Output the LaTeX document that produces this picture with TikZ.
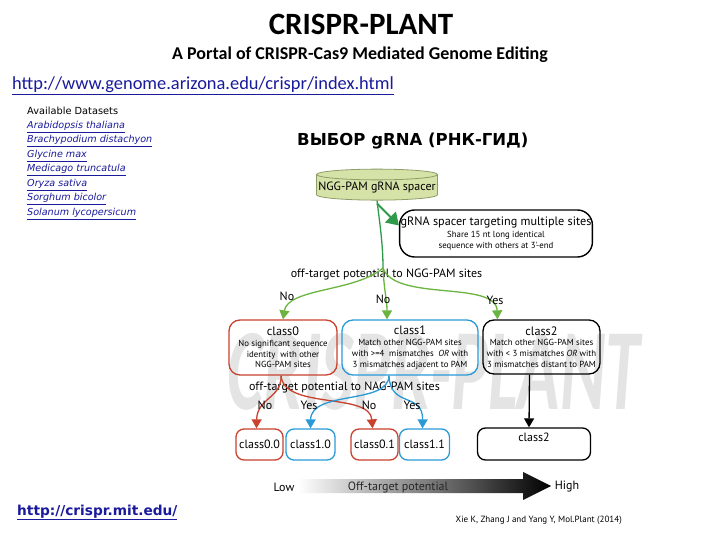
\documentclass[tikz,border=0pt]{standalone}
\usepackage{fontspec}
\setmainfont{Carlito}
\newfontfamily\diafont{PT Sans}
\newfontfamily\webfont{DejaVu Sans}
\usetikzlibrary{positioning,shapes.geometric,arrows.meta}
\definecolor{linkblue}{HTML}{1A1A9C}
\definecolor{spacerfill}{HTML}{D5E3A8}
\definecolor{spacerline}{HTML}{8E9C68}
\definecolor{trunkgreen}{HTML}{2E9A4A}
\definecolor{branchgreen}{HTML}{6BB43F}
\definecolor{classred}{HTML}{C9422E}
\definecolor{classblue}{HTML}{2A9AD6}
\definecolor{markgray}{HTML}{E4E4E4}
\tikzset{
    classbox/.style={draw, line width=1.3pt, rounded corners=11pt, align=center,
        inner sep=1pt, minimum height=55pt, font=\diafont\fontsize{8.8}{10.8}\selectfont},
    leafbox/.style={draw, line width=1.3pt, rounded corners=8pt, minimum height=31pt,
        inner sep=1pt, font=\diafont\fontsize{12}{14}\selectfont},
    steplabel/.style={font=\diafont\fontsize{12}{14}\selectfont, inner sep=1pt},
    tipped/.style={line width=1.3pt, -{Triangle[width=10pt,length=9pt]}},
    dataset/.style={anchor=base west, inner sep=0pt, text=linkblue, font=\webfont\fontsize{9.6}{11}\selectfont\itshape}
}
\newcommand{\classtitle}[1]{{\fontsize{12.2}{14}\selectfont #1}}
\begin{document}
\begin{tikzpicture}[x=1pt, y=-1pt]
    \useasboundingbox[fill=white] (0,0) rectangle (720,540);
    % Filigrane
    \node[text=markgray, inner sep=0pt] (mark) at (434,372)
        {\scalebox{0.6}[1]{\fontsize{116}{116}\selectfont\bfseries\itshape CRISPR-PLANT}};
    % En-tete
    \node[anchor=base, inner sep=0pt, font=\fontsize{31}{34}\selectfont\bfseries] (title) at (361,35) {CRISPR-PLANT};
    \node[anchor=base, inner sep=0pt, font=\fontsize{18}{20}\selectfont\bfseries] (subtitle) at (360,60)
        {A Portal of CRISPR-Cas9 Mediated Genome Editing};
    \node[anchor=base west, inner sep=0pt, text=linkblue, font=\fontsize{18.4}{20}\selectfont] (portal) at (12,90)
        {\underline{http://www.genome.arizona.edu/crispr/index.html}};
    % Liste des especes
    \node[anchor=base west, inner sep=0pt, font=\webfont\fontsize{9.8}{11}\selectfont] (avail) at (27,115) {Available Datasets};
    \foreach \sp [count=\i] in {Arabidopsis thaliana, Brachypodium distachyon, Glycine max,
        Medicago truncatula, Oryza sativa, Sorghum bicolor, Solanum lycopersicum}
        \node[dataset] (ds\i) at (27,{114+14.5*\i}) {\underline{\sp}};
    \node[anchor=base west, inner sep=0pt, font=\webfont\fontsize{16.5}{18}\selectfont\bfseries] (choice) at (297,146)
        {ВЫБОР gRNA (РНК-ГИД)};
    \node[anchor=base west, inner sep=0pt, text=linkblue, font=\webfont\fontsize{13.7}{15}\selectfont\bfseries] (mit) at (17,515)
        {\underline{http://crispr.mit.edu/}};
    % Spacer et sites multiples
    \node[cylinder, shape border rotate=90, aspect=0.09, draw=spacerline, fill=spacerfill, line width=0.8pt,
        minimum width=121pt, minimum height=31pt, inner sep=1pt, font=\diafont\fontsize{12}{14}\selectfont]
        (spacer) at (377,188) {NGG-PAM gRNA spacer};
    \node[draw, line width=1.4pt, rounded corners=15pt, align=center, minimum width=192pt, minimum height=47pt,
        inner sep=1pt, font=\diafont\fontsize{8.8}{11}\selectfont] (multi) at (496,233.5)
        {\classtitle{gRNA spacer targeting multiple sites}\\[1pt] Share 15 nt long identical\\ sequence with others at 3'-end};
    \coordinate (fork) at (383,268);
    \draw[trunkgreen, line width=1.3pt] (spacer.south) .. controls (380,225) and (383,245) .. (fork);
    \draw[trunkgreen, line width=2pt, -{Triangle[width=15pt,length=12pt]}] ([yshift=-3pt]spacer.south) -- ([yshift=8pt]multi.west);
    \node[steplabel] (ngg) at (386.5,274) {off-target potential to NGG-PAM sites};
    % Classes
    \node[classbox, draw=classred, minimum width=108pt] (class0) at (283,347.5)
        {\classtitle{class0}\\ No significant sequence\\ identity\ \ with other\\ NGG-PAM sites};
    \node[classbox, draw=classblue, minimum width=136pt] (class1) at (410,347.5)
        {\classtitle{class1}\\ Match other NGG-PAM sites\\ with >=4\ \ mismatches\ \ \textit{OR} with\\ 3 mismatches adjacent to PAM};
    \node[classbox, minimum width=117pt, minimum height=54pt] (class2) at (541.5,347)
        {\classtitle{class2}\\ Match other NGG-PAM sites\\ with < 3 mismatches \textit{OR} with\\ 3 mismatches distant to PAM};
    \draw[tipped, branchgreen] (fork) .. controls (355,292) and (288,288) .. (class0.north);
    \draw[tipped, branchgreen] (fork) .. controls (384,290) and (387,300) .. ([xshift=-23pt]class1.north);
    \draw[tipped, branchgreen] (fork) .. controls (395,302) and (496,280) .. ([xshift=-44pt]class2.north);
    \node[steplabel] (no0) at (287,296) {No};
    \node[steplabel] (no1) at (383,299) {No};
    \node[steplabel] (yes2) at (495,300) {Yes};
    % Sous-classes NAG
    \node[steplabel] (nag) at (344.5,387) {off-target potential to NAG-PAM sites};
    \node[leafbox, draw=classred, minimum width=47pt] (class00) at (259.5,444.5) {class0.0};
    \node[leafbox, draw=classblue, minimum width=49pt] (class10) at (310.5,444.5) {class1.0};
    \node[leafbox, draw=classred, minimum width=47pt] (class01) at (374.5,444.5) {class0.1};
    \node[leafbox, draw=classblue, minimum width=50pt] (class11) at (424.5,444.5) {class1.1};
    \node[leafbox, minimum width=113pt, minimum height=32pt, text depth=14pt] (class2b) at (534,444) {class2};
    \draw[tipped, classred] ([xshift=-2pt]class0.south) .. controls (282,398) and (257,398) .. ([xshift=-3pt]class00.north);
    \draw[tipped, classred] ([xshift=-2pt]class0.south) .. controls (284,410) and (370,392) .. ([xshift=-2pt]class01.north);
    \draw[tipped, classblue] ([xshift=-21pt]class1.south) .. controls (389,405) and (311,390) .. (class10.north);
    \draw[tipped, classblue] ([xshift=-21pt]class1.south) .. controls (390,408) and (423,392) .. ([xshift=-2pt]class11.north);
    \draw[tipped, black] ([xshift=-12pt]class2.south) -- ([xshift=-5pt]class2b.north);
    \node[steplabel] (no00) at (265,405) {No};
    \node[steplabel] (yes01) at (309,405) {Yes};
    \node[steplabel] (no10) at (369,405) {No};
    \node[steplabel] (yes11) at (412,405) {Yes};
    % Echelle du potentiel
    \shade[left color=white, right color=black] (298,479) -- (523,479) -- (523,472) -- (551,486)
        -- (523,500) -- (523,493) -- (298,493) -- cycle;
    \node[steplabel] (low) at (284,487) {Low};
    \node[steplabel, text=black!85] (scale) at (398,487) {Off-target potential};
    \node[steplabel] (high) at (567,487) {High};
    \node[anchor=east, inner sep=0pt, font=\diafont\fontsize{9}{10}\selectfont] (cite) at (622,520)
        {Xie K, Zhang J and Yang Y, Mol.Plant (2014)};
\end{tikzpicture}
\end{document}
